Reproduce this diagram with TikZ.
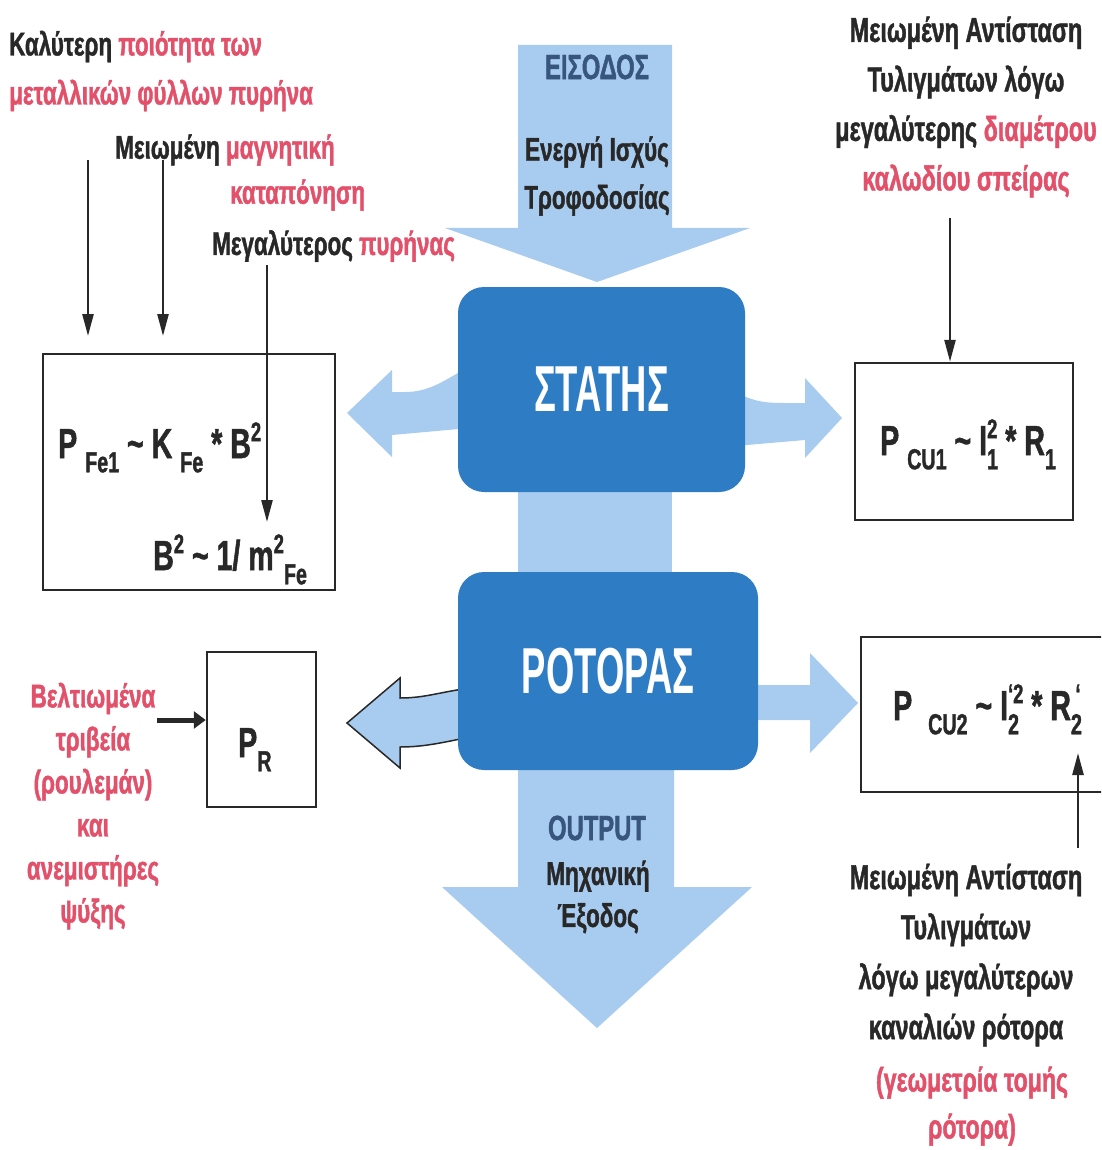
\documentclass[tikz,border=0pt]{standalone}
\usepackage{fontspec}
\setmainfont{Liberation Sans}[FakeStretch=0.68, BoldFeatures={FakeBold=1.2}]
\newfontfamily\corefont{Liberation Sans}[FakeStretch=0.56]
\usetikzlibrary{arrows.meta}
\definecolor{rd}{RGB}{226,80,106}
\definecolor{bk}{RGB}{40,40,40}
\definecolor{sl}{RGB}{55,85,125}
\definecolor{lb}{RGB}{168,204,240}
\definecolor{db}{RGB}{46,125,196}
\newcommand\R[1]{\textcolor{rd}{#1}}
\newcommand\dn[1]{\raisebox{-0.34em}{\fontsize{29}{29}\selectfont #1}}
\newcommand\up[1]{\raisebox{0.40em}{\fontsize{27}{27}\selectfont #1}}
\newcommand\dnup[2]{\rlap{\dn{#1}}\up{#2}}
\begin{document}
\begin{tikzpicture}[x=1pt,y=-1pt,
  lbl/.style={font=\fontsize{33}{49}\selectfont\bfseries, text=bk, inner sep=0pt, align=center},
  frm/.style={font=\fontsize{42}{42}\selectfont\bfseries, text=bk, inner sep=0pt},
  core/.style={fill=db, rounded corners=26pt, text=white, inner sep=0pt,
    font=\corefont\bfseries\fontsize{65}{65}\selectfont},
  lossbox/.style={draw=bk, line width=2.5pt, fill=white, inner sep=0pt},
  tarrow/.style={draw=bk, line width=2.5pt, -{Triangle[length=22pt,width=11pt]}},
  harrow/.style={draw=bk, line width=5pt, -{Triangle[length=12pt,width=17pt]}},
  flow/.style={fill=lb}
]
\fill[white] (0,0) rectangle (1101,1150);
\clip (0,0) rectangle (1101,1150);
\useasboundingbox (0,0) rectangle (1101,1150);

% flow arrows
\fill[flow] (518,45) -- (672,45) -- (672,228) -- (750,228) -- (597,282) -- (445,228) -- (518,228) -- cycle;
\fill[flow] (518,470) rectangle (672,590);
\fill[flow] (518,760) -- (674,760) -- (674,887) -- (752,887) -- (597,1028) -- (442,887) -- (518,887) -- cycle;
\fill[flow] (470,366) .. controls (445,380) and (430,392) .. (405,392) -- (392,392) -- (392,370) -- (347,413) -- (392,457) -- (392,435) -- (470,428) -- cycle;
\fill[flow] (735,392) .. controls (755,402) and (765,403) .. (785,403) -- (805,403) -- (805,378) -- (842,418) -- (805,458) -- (805,440) -- (735,446) -- cycle;
\filldraw[fill=lb, draw=bk, line width=1.5pt] (470,688) .. controls (440,692) and (425,698) .. (400,698) -- (400,678) -- (347,723) -- (400,768) -- (400,747) .. controls (425,747) and (445,742) .. (470,737);
\fill[flow] (750,685) -- (810,685) -- (810,653) -- (858,703) -- (810,753) -- (810,720) -- (750,720) -- cycle;

% core blocks
\node[core, minimum width=287pt, minimum height=205pt] (stator) at (601.5,389.5) {ΣΤΑΤΗΣ};
\node[core, minimum width=300pt, minimum height=198pt] (rotor) at (608,671) {ΡΟΤΟΡΑΣ};

% loss boxes
\node[lossbox, minimum width=292pt, minimum height=236pt] (fe) at (189,472) {};
\node[lossbox, minimum width=218pt, minimum height=157pt] (cu1) at (964,441.5) {};
\node[lossbox, minimum width=109pt, minimum height=155pt] (pr) at (261.5,729.5) {};
\node[lossbox, minimum width=258pt, minimum height=155pt] (cu2) at (990,714.5) {};

% formulas
\node[frm, anchor=base west] (f1) at (58,458) {P \dn{Fe1} \textasciitilde{} K \dn{Fe} * B\up{2}};
\node[frm, anchor=base west] (f2) at (153,570) {B\up{2} \textasciitilde{} 1/ m\up{2}\dn{Fe}};
\node[frm, anchor=base west] (f3) at (880,455) {P \dn{CU1} \textasciitilde{} I\dnup{1}{2} * R\dn{1}};
\node[frm, anchor=base west] (f4) at (238,757) {P\dn{R}};
\node[frm, anchor=base west] (f5) at (893,720) {P \ \dn{CU2} \textasciitilde{} I\dnup{2}{‘2} * R\dnup{2}{\,‘}};

% labels
\node[lbl, anchor=west, align=left] (q1) at (9,71) {Καλύτερη \R{ποιότητα των}\\\R{μεταλλικών φύλλων πυρήνα}};
\node[lbl, anchor=west] (q2) at (115,150) {Μειωμένη \R{μαγνητική}};
\node[lbl, anchor=west] (q3) at (230,195) {\R{καταπόνηση}};
\node[lbl, anchor=west] (q4) at (212,246) {Μεγαλύτερος \R{πυρήνας}};
\node[lbl, font=\fontsize{34.5}{49.5}\selectfont\bfseries] (q5) at (966,107) {Μειωμένη Αντίσταση\\Τυλιγμάτων λόγω\\μεγαλύτερης \R{διαμέτρου}\\\R{καλωδίου σπείρας}};
\node[lbl, text=sl, font=\fontsize{35}{35}\selectfont\bfseries] (in1) at (597,67) {ΕΙΣΟΔΟΣ};
\node[lbl, font=\fontsize{33}{48}\selectfont\bfseries] (in2) at (597,176) {Ενεργή Ισχύς\\Τροφοδοσίας};
\node[lbl, text=sl, font=\fontsize{35}{35}\selectfont\bfseries] (out1) at (597,828) {OUTPUT};
\node[lbl, font=\fontsize{33}{42}\selectfont\bfseries] (out2) at (598,897) {Μηχανική\\Έξοδος};
\node[lbl, text=rd, font=\fontsize{33}{43}\selectfont\bfseries] (q6) at (93,806) {Βελτιωμένα\\τριβεία\\(ρουλεμάν)\\και\\ανεμιστήρες\\ψύξης};
\node[lbl, font=\fontsize{34.5}{50}\selectfont\bfseries] (q7) at (966,955) {Μειωμένη Αντίσταση\\Τυλιγμάτων\\λόγω μεγαλύτερων\\καναλιών ρότορα};
\node[lbl, text=rd, font=\fontsize{34}{47}\selectfont\bfseries] (q8) at (972,1106) {(γεωμετρία τομής\\ρότορα)};

% thin arrows
\coordinate (a1s) at (88,160);
\coordinate (a1e) at (88,336);
\coordinate (a2s) at (163,160);
\coordinate (a2e) at (163,336);
\coordinate (a3s) at (267,265);
\coordinate (a3e) at (267,522);
\coordinate (a4s) at (950,218);
\coordinate (a5s) at (1078,848);
\coordinate (a5e) at (1078,753);
\coordinate (a6s) at (157,720);
\draw[tarrow] (a1s) -- (a1e);
\draw[tarrow] (a2s) -- (a2e);
\draw[tarrow] (a3s) -- (a3e);
\draw[tarrow] (a4s) -- (a4s |- cu1.north);
\draw[tarrow] (a5s) -- (a5e);
\draw[harrow] (a6s) -- (a6s -| pr.west);
\end{tikzpicture}
\end{document}
